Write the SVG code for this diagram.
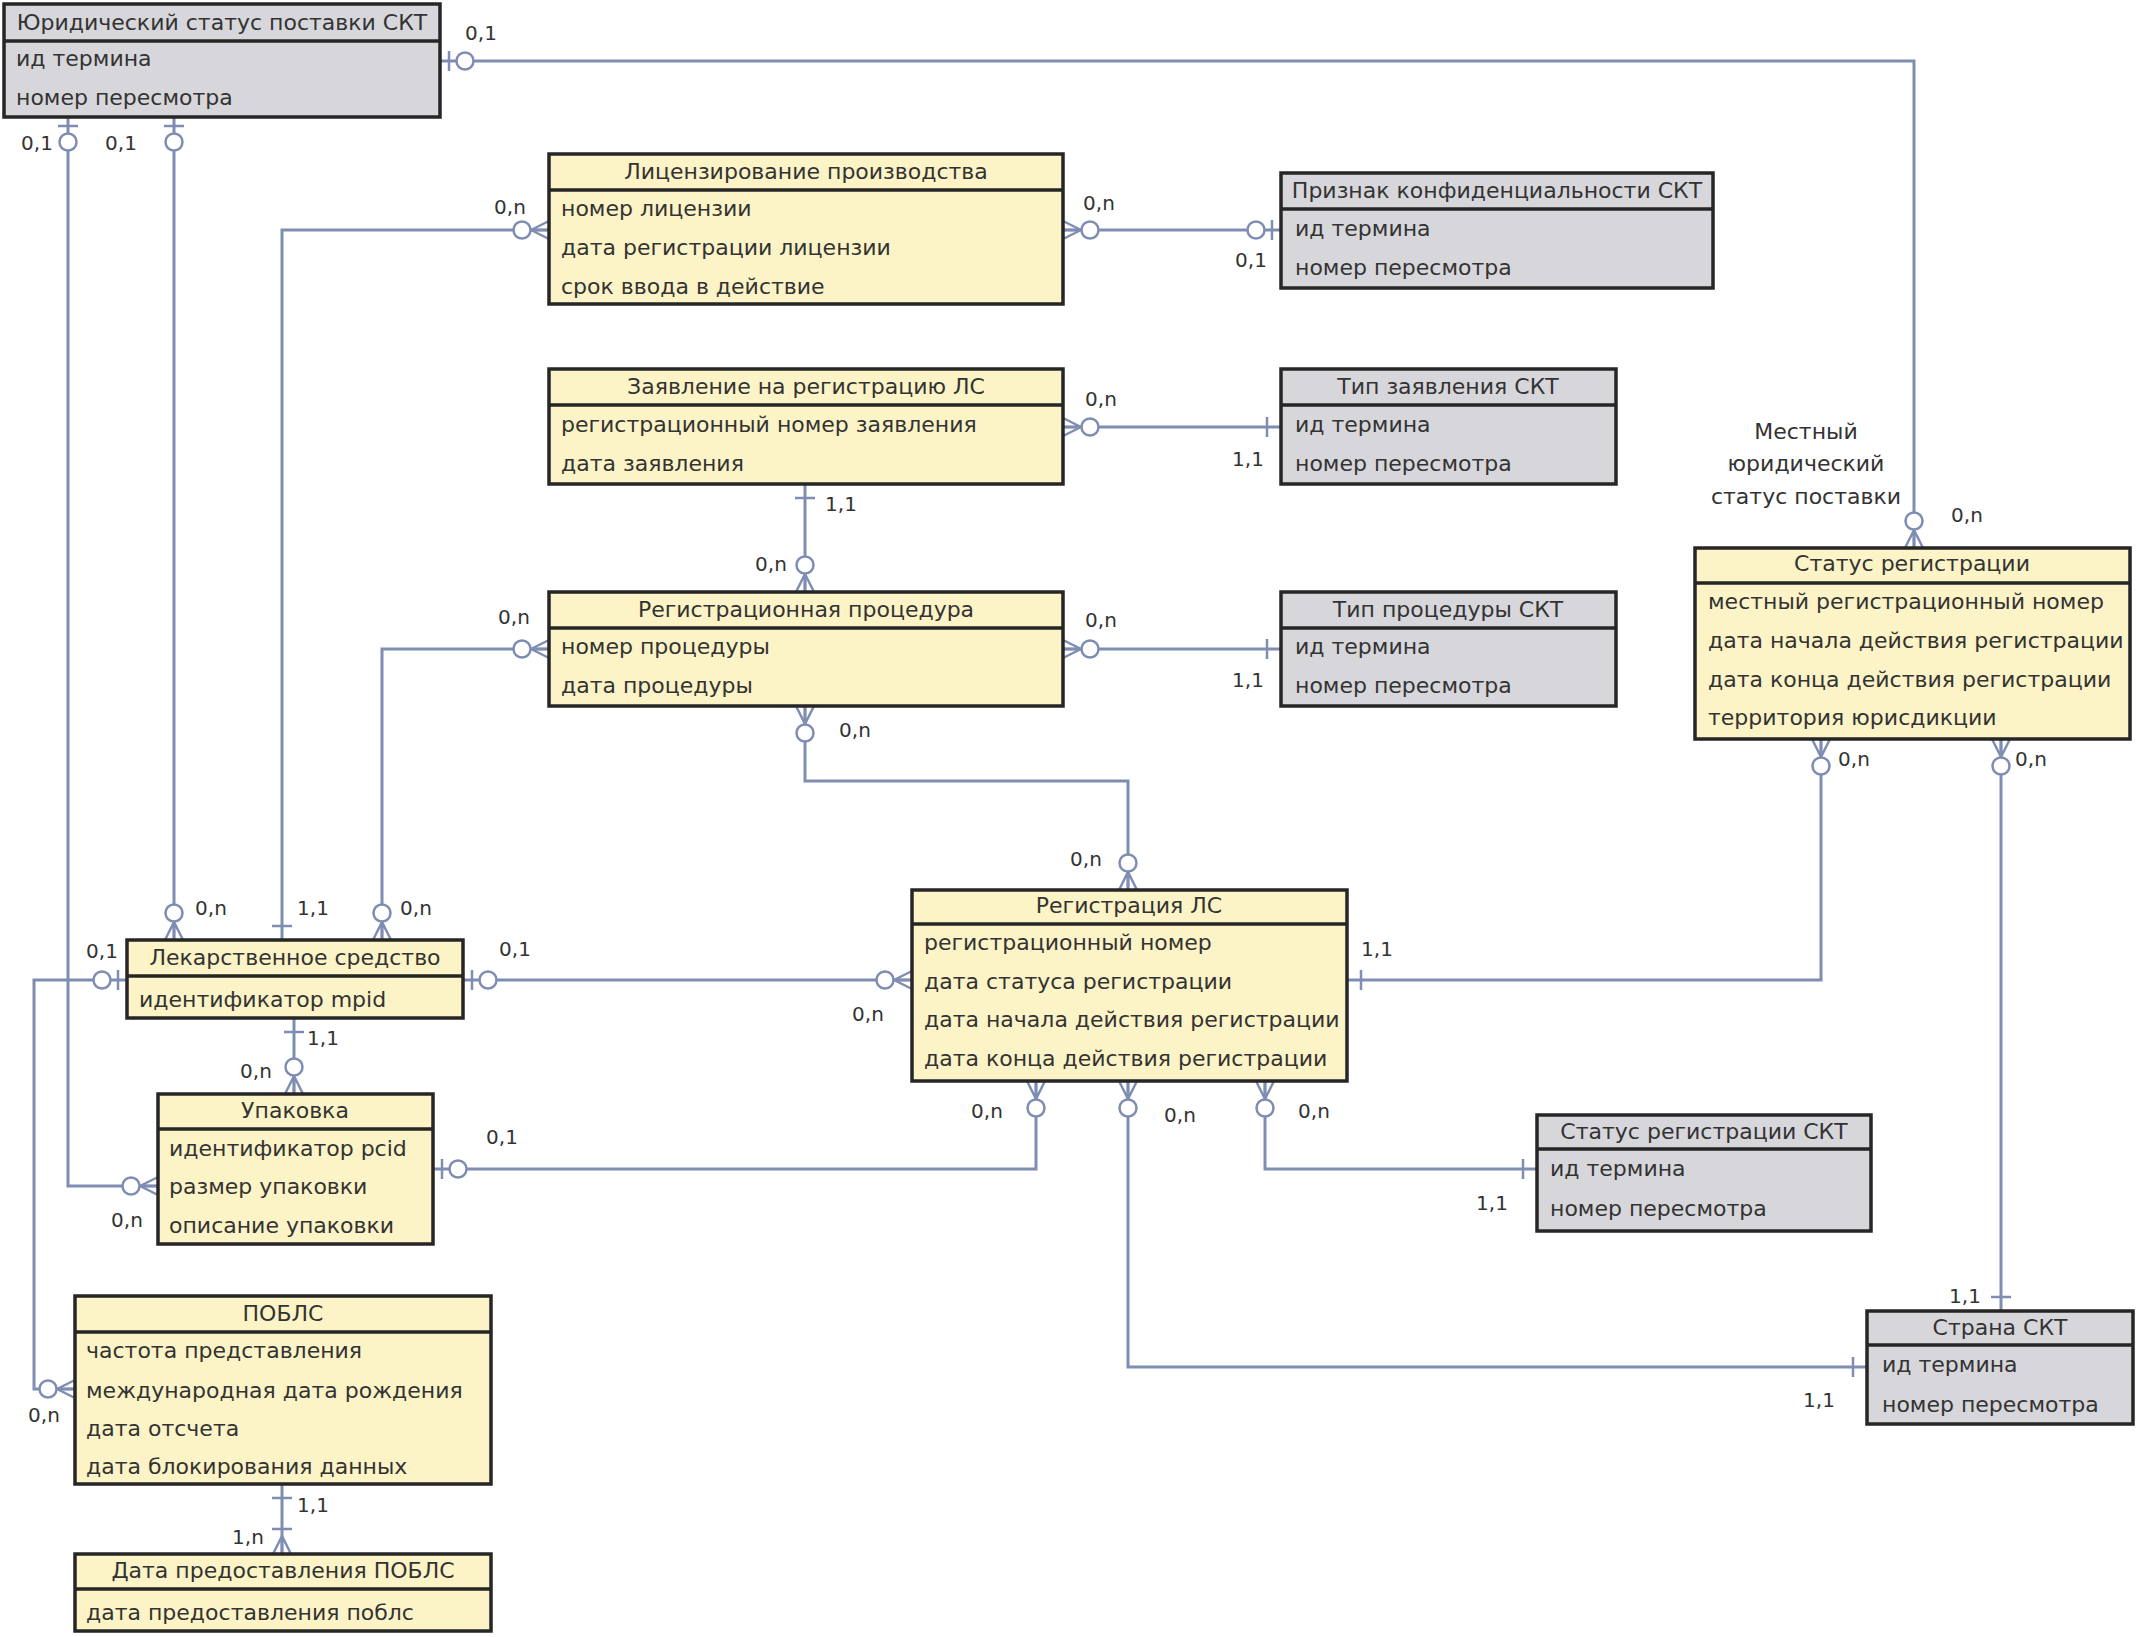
<svg xmlns="http://www.w3.org/2000/svg" xmlns:xlink="http://www.w3.org/1999/xlink" width="2137" height="1637" viewBox="0 0 2137 1637">
<style>
.ey{fill:#fcf4c6;stroke:#262626;stroke-width:3.5}
.eg{fill:#d7d7db;stroke:#262626;stroke-width:3.5}
.dv{stroke:#262626;stroke-width:3.5}
.h{font-family:"DejaVu Sans",sans-serif;font-size:22px;fill:#333;text-anchor:middle}
.t{font-family:"DejaVu Sans",sans-serif;font-size:22px;fill:#333}
.c{fill:none;stroke:#7f8db3;stroke-width:3}
.mk{fill:none;stroke:#7f8db3;stroke-width:2.5}
.mc{fill:#fff;stroke:#7f8db3;stroke-width:2.5}
.l{font-family:"DejaVu Sans",sans-serif;font-size:20px;fill:#333;text-anchor:middle}
</style>
<defs>
<g id="m0n"><path class="mk" d="M-18,0L0,-9M-18,0L0,0M-18,0L0,9"/><circle class="mc" cx="-27" cy="0" r="8.5"/></g>
<g id="m01"><path class="mk" d="M-9,-10V10"/><circle class="mc" cx="-25" cy="0" r="8.5"/></g>
<g id="m11"><path class="mk" d="M-14,-10V10"/></g>
<g id="m1n"><path class="mk" d="M-18,0L0,-9M-18,0L0,0M-18,0L0,9M-25,-10V10"/></g>
</defs>
<rect width="2137" height="1637" fill="#fff"/>

<g id="connectors">
<path class="c" d="M440,61H1914V548"/>
<path class="c" d="M68,117V1186H158"/>
<path class="c" d="M174,117V940"/>
<path class="c" d="M549,230H282V940"/>
<path class="c" d="M1063,230H1281"/>
<path class="c" d="M1063,427H1281"/>
<path class="c" d="M805,484V592"/>
<path class="c" d="M549,649H382V940"/>
<path class="c" d="M1063,649H1281"/>
<path class="c" d="M805,706V781H1128V890"/>
<path class="c" d="M463,980H912"/>
<path class="c" d="M294,1018V1094"/>
<path class="c" d="M433,1169H1036V1081"/>
<path class="c" d="M1128,1081V1367H1867"/>
<path class="c" d="M1265,1081V1169H1537"/>
<path class="c" d="M1347,980H1821V739"/>
<path class="c" d="M2001,739V1311"/>
<path class="c" d="M127,980H34V1389H75"/>
<path class="c" d="M282,1484V1554"/>

<use href="#m01" transform="translate(440,61) rotate(180)"/>
<use href="#m0n" transform="translate(1914,548) rotate(90)"/>
<use href="#m01" transform="translate(68,117) rotate(-90)"/>
<use href="#m0n" transform="translate(158,1186)"/>
<use href="#m01" transform="translate(174,117) rotate(-90)"/>
<use href="#m0n" transform="translate(174,940) rotate(90)"/>
<use href="#m0n" transform="translate(549,230)"/>
<use href="#m11" transform="translate(282,940) rotate(90)"/>
<use href="#m0n" transform="translate(1063,230) rotate(180)"/>
<use href="#m01" transform="translate(1281,230)"/>
<use href="#m0n" transform="translate(1063,427) rotate(180)"/>
<use href="#m11" transform="translate(1281,427)"/>
<use href="#m11" transform="translate(805,484) rotate(-90)"/>
<use href="#m0n" transform="translate(805,592) rotate(90)"/>
<use href="#m0n" transform="translate(549,649)"/>
<use href="#m0n" transform="translate(382,940) rotate(90)"/>
<use href="#m0n" transform="translate(1063,649) rotate(180)"/>
<use href="#m11" transform="translate(1281,649)"/>
<use href="#m0n" transform="translate(805,706) rotate(-90)"/>
<use href="#m0n" transform="translate(1128,890) rotate(90)"/>
<use href="#m01" transform="translate(463,980) rotate(180)"/>
<use href="#m0n" transform="translate(912,980)"/>
<use href="#m11" transform="translate(294,1018) rotate(-90)"/>
<use href="#m0n" transform="translate(294,1094) rotate(90)"/>
<use href="#m01" transform="translate(433,1169) rotate(180)"/>
<use href="#m0n" transform="translate(1036,1081) rotate(-90)"/>
<use href="#m0n" transform="translate(1128,1081) rotate(-90)"/>
<use href="#m11" transform="translate(1867,1367)"/>
<use href="#m0n" transform="translate(1265,1081) rotate(-90)"/>
<use href="#m11" transform="translate(1537,1169)"/>
<use href="#m11" transform="translate(1347,980) rotate(180)"/>
<use href="#m0n" transform="translate(1821,739) rotate(-90)"/>
<use href="#m0n" transform="translate(2001,739) rotate(-90)"/>
<use href="#m11" transform="translate(2001,1311) rotate(90)"/>
<use href="#m01" transform="translate(127,980)"/>
<use href="#m0n" transform="translate(75,1389)"/>
<use href="#m11" transform="translate(282,1484) rotate(-90)"/>
<use href="#m1n" transform="translate(282,1554) rotate(90)"/>

<text class="l" x="481" y="40">0,1</text>
<text class="l" x="1967" y="522">0,n</text>
<text class="l" x="37" y="150">0,1</text>
<text class="l" x="121" y="150">0,1</text>
<text class="l" x="510" y="214">0,n</text>
<text class="l" x="1099" y="210">0,n</text>
<text class="l" x="1251" y="267">0,1</text>
<text class="l" x="1101" y="406">0,n</text>
<text class="l" x="1248" y="466">1,1</text>
<text class="l" x="841" y="511">1,1</text>
<text class="l" x="771" y="571">0,n</text>
<text class="l" x="514" y="624">0,n</text>
<text class="l" x="1101" y="627">0,n</text>
<text class="l" x="1248" y="687">1,1</text>
<text class="l" x="855" y="737">0,n</text>
<text class="l" x="1086" y="866">0,n</text>
<text class="l" x="211" y="915">0,n</text>
<text class="l" x="313" y="915">1,1</text>
<text class="l" x="416" y="915">0,n</text>
<text class="l" x="102" y="958">0,1</text>
<text class="l" x="515" y="956">0,1</text>
<text class="l" x="868" y="1021">0,n</text>
<text class="l" x="1377" y="956">1,1</text>
<text class="l" x="323" y="1045">1,1</text>
<text class="l" x="256" y="1078">0,n</text>
<text class="l" x="502" y="1144">0,1</text>
<text class="l" x="987" y="1118">0,n</text>
<text class="l" x="1180" y="1122">0,n</text>
<text class="l" x="1314" y="1118">0,n</text>
<text class="l" x="1492" y="1210">1,1</text>
<text class="l" x="127" y="1227">0,n</text>
<text class="l" x="1854" y="766">0,n</text>
<text class="l" x="2031" y="766">0,n</text>
<text class="l" x="1965" y="1303">1,1</text>
<text class="l" x="1819" y="1407">1,1</text>
<text class="l" x="44" y="1422">0,n</text>
<text class="l" x="313" y="1512">1,1</text>
<text class="l" x="248" y="1544">1,n</text>
<text class="h" x="1806" y="439">Местный</text>
<text class="h" x="1806" y="471">юридический</text>
<text class="h" x="1806" y="504">статус поставки</text>
</g>

<g id="n-yur-status">
<rect class="eg" x="4" y="4" width="436" height="113"/>
<line class="dv" x1="4" y1="41" x2="440" y2="41"/>
<text class="h" x="222" y="30">Юридический статус поставки СКТ</text>
<text class="t" x="16" y="66">ид термина</text>
<text class="t" x="16" y="105">номер пересмотра</text>
</g>

<g id="n-licenz">
<rect class="ey" x="549" y="154" width="514" height="150"/>
<line class="dv" x1="549" y1="190" x2="1063" y2="190"/>
<text class="h" x="806" y="179">Лицензирование производства</text>
<text class="t" x="561" y="216">номер лицензии</text>
<text class="t" x="561" y="255">дата регистрации лицензии</text>
<text class="t" x="561" y="294">срок ввода в действие</text>
</g>

<g id="n-konf">
<rect class="eg" x="1281" y="173" width="432" height="115"/>
<line class="dv" x1="1281" y1="209" x2="1713" y2="209"/>
<text class="h" x="1497" y="198">Признак конфиденциальности  СКТ</text>
<text class="t" x="1295" y="236">ид термина</text>
<text class="t" x="1295" y="275">номер пересмотра</text>
</g>

<g id="n-zayav">
<rect class="ey" x="549" y="369" width="514" height="115"/>
<line class="dv" x1="549" y1="405" x2="1063" y2="405"/>
<text class="h" x="806" y="394">Заявление на регистрацию ЛС</text>
<text class="t" x="561" y="432">регистрационный номер заявления</text>
<text class="t" x="561" y="471">дата заявления</text>
</g>

<g id="n-tip-zayav">
<rect class="eg" x="1281" y="369" width="335" height="115"/>
<line class="dv" x1="1281" y1="405" x2="1616" y2="405"/>
<text class="h" x="1448" y="394">Тип заявления  СКТ</text>
<text class="t" x="1295" y="432">ид термина</text>
<text class="t" x="1295" y="471">номер пересмотра</text>
</g>

<g id="n-proc">
<rect class="ey" x="549" y="592" width="514" height="114"/>
<line class="dv" x1="549" y1="628" x2="1063" y2="628"/>
<text class="h" x="806" y="617">Регистрационная процедура</text>
<text class="t" x="561" y="654">номер процедуры</text>
<text class="t" x="561" y="693">дата процедуры</text>
</g>

<g id="n-tip-proc">
<rect class="eg" x="1281" y="592" width="335" height="114"/>
<line class="dv" x1="1281" y1="628" x2="1616" y2="628"/>
<text class="h" x="1448" y="617">Тип процедуры  СКТ</text>
<text class="t" x="1295" y="654">ид термина</text>
<text class="t" x="1295" y="693">номер пересмотра</text>
</g>

<g id="n-status">
<rect class="ey" x="1695" y="548" width="435" height="191"/>
<line class="dv" x1="1695" y1="583" x2="2130" y2="583"/>
<text class="h" x="1912" y="571">Статус регистрации</text>
<text class="t" x="1708" y="609">местный регистрационный номер</text>
<text class="t" x="1708" y="648">дата начала действия регистрации</text>
<text class="t" x="1708" y="687">дата конца действия регистрации</text>
<text class="t" x="1708" y="725">территория юрисдикции</text>
</g>

<g id="n-reg-ls">
<rect class="ey" x="912" y="890" width="435" height="191"/>
<line class="dv" x1="912" y1="924" x2="1347" y2="924"/>
<text class="h" x="1129" y="913">Регистрация ЛС</text>
<text class="t" x="924" y="950">регистрационный номер</text>
<text class="t" x="924" y="989">дата статуса регистрации</text>
<text class="t" x="924" y="1027">дата начала действия регистрации</text>
<text class="t" x="924" y="1066">дата конца действия регистрации</text>
</g>

<g id="n-lek">
<rect class="ey" x="127" y="940" width="336" height="78"/>
<line class="dv" x1="127" y1="976" x2="463" y2="976"/>
<text class="h" x="295" y="965">Лекарственное средство</text>
<text class="t" x="139" y="1007">идентификатор mpid</text>
</g>

<g id="n-upak">
<rect class="ey" x="158" y="1094" width="275" height="150"/>
<line class="dv" x1="158" y1="1129" x2="433" y2="1129"/>
<text class="h" x="295" y="1118">Упаковка</text>
<text class="t" x="169" y="1156">идентификатор pcid</text>
<text class="t" x="169" y="1194">размер упаковки</text>
<text class="t" x="169" y="1233">описание упаковки</text>
</g>

<g id="n-status-skt">
<rect class="eg" x="1537" y="1115" width="334" height="116"/>
<line class="dv" x1="1537" y1="1149" x2="1871" y2="1149"/>
<text class="h" x="1704" y="1139">Статус регистрации  СКТ</text>
<text class="t" x="1550" y="1176">ид термина</text>
<text class="t" x="1550" y="1216">номер пересмотра</text>
</g>

<g id="n-strana">
<rect class="eg" x="1867" y="1311" width="266" height="113"/>
<line class="dv" x1="1867" y1="1345" x2="2133" y2="1345"/>
<text class="h" x="2000" y="1335">Страна  СКТ</text>
<text class="t" x="1882" y="1372">ид термина</text>
<text class="t" x="1882" y="1412">номер пересмотра</text>
</g>

<g id="n-pobls">
<rect class="ey" x="75" y="1296" width="416" height="188"/>
<line class="dv" x1="75" y1="1332" x2="491" y2="1332"/>
<text class="h" x="283" y="1321">ПОБЛС</text>
<text class="t" x="86" y="1358">частота представления</text>
<text class="t" x="86" y="1398">международная дата рождения</text>
<text class="t" x="86" y="1436">дата отсчета</text>
<text class="t" x="86" y="1474">дата блокирования данных</text>
</g>

<g id="n-data-pobls">
<rect class="ey" x="75" y="1554" width="416" height="77"/>
<line class="dv" x1="75" y1="1589" x2="491" y2="1589"/>
<text class="h" x="283" y="1578">Дата предоставления ПОБЛС</text>
<text class="t" x="86" y="1620">дата предоставления поблс</text>
</g>
</svg>
